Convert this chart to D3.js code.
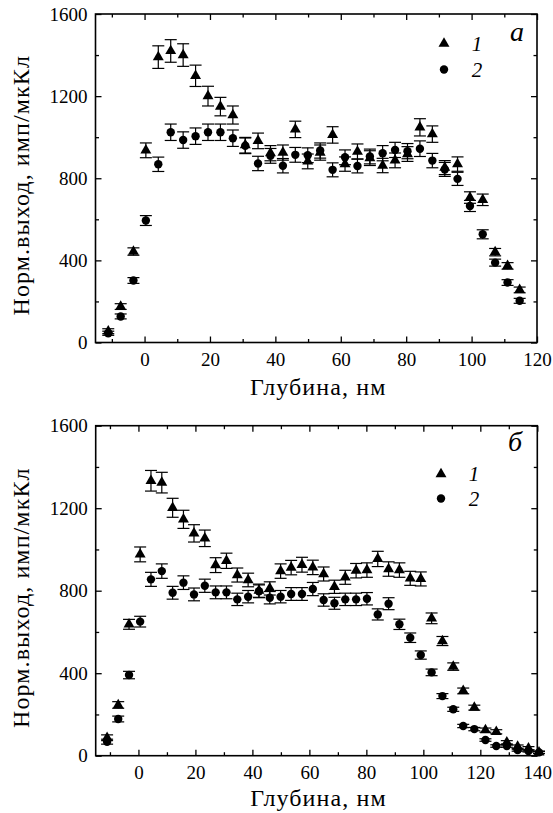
<!DOCTYPE html>
<html>
<head>
<meta charset="utf-8">
<script src="https://cdn.jsdelivr.net/npm/d3@7"></script>
<style>
  body { margin: 0; background: #fff; }
</style>
</head>
<body>
<div id="chart"></div>
<script>
// Панель а: глубина, нм
const depthA = [-11.1, -7.3, -3.4, 0.4, 4.2, 8.0, 11.8, 15.6, 19.4, 23.2, 27.0, 30.8, 34.7, 38.5, 42.3, 46.1, 49.9,
  53.7, 57.5, 61.3, 65.1, 68.9, 72.8, 76.6, 80.4, 84.2, 88.0, 91.8, 95.7, 99.5, 103.4, 107.2, 111.0, 114.7];
const yieldA1 = [55, 175, 443, 936, 1390, 1420, 1400, 1299, 1200, 1149, 1108, 961, 982, 922, 925, 1038, 882,
  925, 1011, 869, 930, 898, 862, 887, 918, 1048, 1015, 852, 869, 706, 695, 440, 373, 256];
const errA1 = [12, 14, 18, 36, 55, 55, 55, 52, 48, 45, 44, 38, 38, 37, 37, 40, 36,
  37, 40, 35, 37, 36, 35, 36, 36, 42, 40, 34, 35, 28, 28, 18, 16, 14];
const yieldA2 = [45, 127, 302, 594, 868, 1024, 986, 1005, 1024, 1024, 995, 958, 872, 909, 861, 914, 912,
  935, 841, 902, 860, 906, 922, 938, 932, 944, 886, 843, 797, 665, 527, 389, 292, 203];
const errA2 = [10, 12, 14, 24, 35, 40, 40, 40, 40, 40, 40, 38, 35, 36, 35, 36, 36,
  37, 34, 36, 34, 36, 37, 37, 37, 38, 35, 34, 32, 27, 22, 17, 14, 12];

// Панель б
const depthB = [-11.0, -7.1, -3.3, 0.6, 4.4, 8.2, 12.0, 15.8, 19.5, 23.3, 27.1, 30.9, 34.7, 38.5, 42.3, 46.1, 49.9,
  53.6, 57.4, 61.2, 65.0, 68.8, 72.6, 76.4, 80.2, 84.0, 87.8, 91.6, 95.4, 99.1, 102.9, 106.7, 110.5, 114.0,
  117.9, 121.8, 125.6, 129.3, 133.1, 136.9, 140.6];
const yieldB1 = [87, 246, 637, 976, 1333, 1324, 1202, 1146, 1078, 1054, 924, 945, 876, 852, 800, 811, 895,
  912, 926, 913, 881, 819, 865, 897, 900, 954, 905, 900, 860, 857, 666, 556, 432, 314,
  233, 124, 116, 65, 44, 36, 16];
const errB1 = [14, 16, 24, 36, 50, 50, 46, 44, 42, 40, 36, 37, 34, 33, 32, 32, 35,
  35, 36, 35, 34, 32, 34, 35, 35, 37, 35, 35, 34, 34, 26, 22, 18, 14,
  12, 10, 10, 8, 8, 8, 6];
const yieldB2 = [68, 178, 391, 650, 855, 895, 790, 839, 782, 824, 792, 792, 758, 771, 797, 766, 771,
  784, 784, 808, 755, 739, 758, 758, 761, 685, 737, 637, 572, 488, 404, 289, 225, 144,
  129, 76, 47, 47, 27, 23, 16];
const errB2 = [12, 14, 18, 26, 34, 35, 31, 33, 31, 32, 31, 31, 30, 30, 31, 30, 30,
  31, 31, 32, 30, 29, 30, 30, 30, 27, 29, 25, 23, 20, 16, 12, 10, 8,
  8, 6, 6, 6, 5, 5, 5];

const xTicksA = [0, 20, 40, 60, 80, 100, 120];
const xTicksB = [0, 20, 40, 60, 80, 100, 120, 140];
const yTicks = [0, 400, 800, 1200, 1600];

const width = 553, height = 813;
const serif = '"Liberation Serif"';

const svg = d3.select('#chart')
  .append('svg')
  .attr('width', width)
  .attr('height', height);

const panels = [
  {
    box: { top: 14, bottom: 342.5, left: 95.5, right: 537 },
    xDomain: [-15, 120], xTicks: xTicksA,
    depth: depthA, s1: yieldA1, e1: errA1, s2: yieldA2, e2: errA2,
    letter: 'а', letterPos: [517, 33],
    legend: { x: 444, tri: 43.5, circ: 69.5, tx: 477 },
    xTitleY: 387
  },
  {
    box: { top: 425.7, bottom: 755.7, left: 95.7, right: 537.3 },
    xDomain: [-15, 140], xTicks: xTicksB,
    depth: depthB, s1: yieldB1, e1: errB1, s2: yieldB2, e2: errB2,
    letter: 'б', letterPos: [515, 443],
    legend: { x: 441, tri: 474, circ: 498.5, tx: 474 },
    xTitleY: 798
  }
];

const tri = d3.symbol().type(d3.symbolTriangle).size(52);

function drawPanel(p) {
  const b = p.box;
  const g = svg.append('g');

  const x = d3.scaleLinear().domain(p.xDomain).range([b.left, b.right]);
  const y = d3.scaleLinear().domain([0, 1600]).range([b.bottom, b.top]);

  const xMinor = d3.range(-10, p.xDomain[1] + 1, 10).filter(v => v % 20 !== 0);
  const yMinor = [200, 600, 1000, 1400];

  // оси: основные и промежуточные засечки внутрь, со всех сторон
  const ax = (gen, tr) => {
    const a = g.append('g').attr('transform', tr).call(gen);
    a.select('.domain').remove();
    a.selectAll('line').attr('stroke', '#000').attr('stroke-width', 1.3);
    a.selectAll('text').style('font-family', serif).style('font-size', '19px').attr('fill', '#000');
    return a;
  };

  ax(d3.axisBottom(x).tickValues(p.xTicks).tickSize(-6).tickPadding(10).tickFormat(d3.format('d')), `translate(0,${b.bottom})`);
  ax(d3.axisBottom(x).tickValues(xMinor).tickSize(-3.5).tickFormat(''), `translate(0,${b.bottom})`);
  ax(d3.axisTop(x).tickValues(p.xTicks).tickSize(-6).tickFormat(''), `translate(0,${b.top})`);
  ax(d3.axisTop(x).tickValues(xMinor).tickSize(-3.5).tickFormat(''), `translate(0,${b.top})`);

  ax(d3.axisLeft(y).tickValues(yTicks).tickSize(-6).tickPadding(8).tickFormat(d3.format('d')), `translate(${b.left},0)`);
  ax(d3.axisLeft(y).tickValues(yMinor).tickSize(-3.5).tickFormat(''), `translate(${b.left},0)`);
  ax(d3.axisRight(y).tickValues(yTicks).tickSize(-6).tickFormat(''), `translate(${b.right},0)`);
  ax(d3.axisRight(y).tickValues(yMinor).tickSize(-3.5).tickFormat(''), `translate(${b.right},0)`);

  g.append('rect')
    .attr('x', b.left).attr('y', b.top)
    .attr('width', b.right - b.left).attr('height', b.bottom - b.top)
    .attr('fill', 'none').attr('stroke', '#000').attr('stroke-width', 1.6);

  // планки погрешностей
  const series = [
    { vals: p.s1, errs: p.e1 },
    { vals: p.s2, errs: p.e2 }
  ];
  series.forEach(s => {
    const rows = p.depth.map((d, i) => ({ d, v: s.vals[i], e: s.errs[i] }));
    const eb = g.append('g').attr('stroke', '#000').attr('stroke-width', 1.2);
    eb.selectAll('.v').data(rows).enter().append('line')
      .attr('x1', r => x(r.d)).attr('x2', r => x(r.d))
      .attr('y1', r => y(r.v - r.e)).attr('y2', r => y(r.v + r.e));
    eb.selectAll('.t').data(rows).enter().append('line')
      .attr('x1', r => x(r.d) - 6).attr('x2', r => x(r.d) + 6)
      .attr('y1', r => y(r.v + r.e)).attr('y2', r => y(r.v + r.e));
    eb.selectAll('.b').data(rows).enter().append('line')
      .attr('x1', r => x(r.d) - 6).attr('x2', r => x(r.d) + 6)
      .attr('y1', r => y(r.v - r.e)).attr('y2', r => y(r.v - r.e));
  });

  // точки: 1 - треугольники, 2 - круги
  g.append('g').selectAll('path')
    .data(p.depth.map((d, i) => [d, p.s1[i]]))
    .enter().append('path')
    .attr('d', tri)
    .attr('transform', d => `translate(${x(d[0])},${y(d[1])})`)
    .attr('fill', '#000');

  g.append('g').selectAll('circle')
    .data(p.depth.map((d, i) => [d, p.s2[i]]))
    .enter().append('circle')
    .attr('cx', d => x(d[0])).attr('cy', d => y(d[1]))
    .attr('r', 4.2)
    .attr('fill', '#000');

  // легенда
  const L = p.legend;
  const txt = (xx, yy, size, s, italic) => g.append('text')
    .attr('x', xx).attr('y', yy).attr('dy', '0.35em')
    .attr('text-anchor', 'middle')
    .style('font-family', serif).style('font-size', size + 'px')
    .style('font-style', italic ? 'italic' : 'normal')
    .text(s);

  g.append('path').attr('d', tri).attr('transform', `translate(${L.x},${L.tri})`).attr('fill', '#000');
  g.append('circle').attr('cx', L.x).attr('cy', L.circ).attr('r', 4.2).attr('fill', '#000');
  txt(L.tx, L.tri, 21, '1', true);
  txt(L.tx, L.circ, 21, '2', true);
  txt(p.letterPos[0], p.letterPos[1], 28, p.letter, true).attr('dy', '0.3em');

  // подписи осей
  txt((b.left + b.right) / 2 + 2, p.xTitleY, 24, 'Глубина, нм', false)
    .style('letter-spacing', '1.1px');
  txt(0, 0, 24, 'Норм.выход, имп/мкКл', false)
    .style('letter-spacing', '1.1px')
    .attr('transform', `translate(21,${(b.top + b.bottom) / 2 + 7}) rotate(-90)`);
}

panels.forEach(drawPanel);
</script>
</body>
</html>
